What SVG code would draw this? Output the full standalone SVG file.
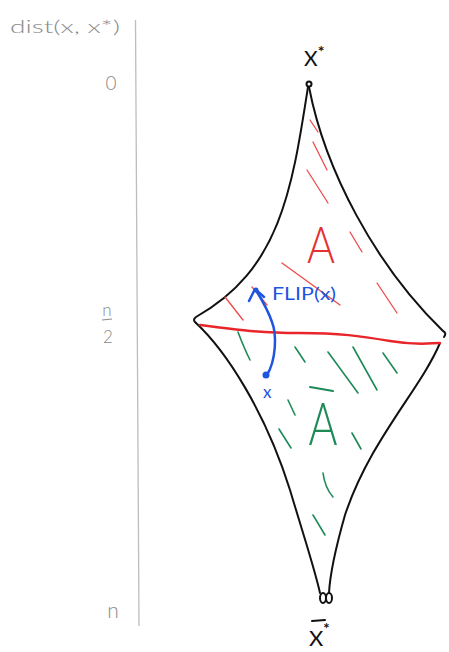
<svg xmlns="http://www.w3.org/2000/svg" width="449" height="652" viewBox="0 0 449 652">
<style>
.ink{fill:none;stroke:#111;stroke-width:2;stroke-linecap:round;stroke-linejoin:round}
.gray{font-family:Lato,Roboto,"Liberation Sans",sans-serif;font-weight:300;fill:#8a8a8a}
.redh{stroke:#ee4a4a;stroke-width:1.3;stroke-linecap:round;fill:none}
.grnh{stroke:#1d8a58;stroke-width:1.6;stroke-linecap:round;fill:none}
.blue{fill:#1f55df;font-family:Lato,Roboto,"Liberation Sans",sans-serif}
.lbl{font-family:Lato,Roboto,"Liberation Sans",sans-serif;fill:#111}
</style>
<rect width="449" height="652" fill="#fff"/>
<g id="axis">
<line x1="135.5" y1="20" x2="139" y2="626" stroke="#bdbdbd" stroke-width="1.3"/>
<text class="gray" x="10" y="33" font-size="18" textLength="110" lengthAdjust="spacingAndGlyphs">dist(x, x*)</text>
<text class="gray" x="111" y="90" font-size="19" text-anchor="middle">0</text>
<text class="gray" x="107" y="316" font-size="17" text-anchor="middle">n</text>
<line x1="102" y1="320" x2="112" y2="319" stroke="#8a8a8a" stroke-width="1.2"/>
<text class="gray" x="108" y="343" font-size="17" text-anchor="middle">2</text>
<text class="gray" x="113" y="618" font-size="21" text-anchor="middle">n</text>
</g>
<g id="shape">
<path class="ink" d="M308,87 C292,190 280,270 196,317 Q192,320 196,323"/>
<path class="ink" d="M309,87 C325,170 375,265 443,331 Q447,333 444,337"/>
<path class="ink" d="M196,323 C225,350 265,410 290,490 C305,540 315,570 320,593"/>
<path class="ink" d="M440,343 C420,390 370,440 345,515 C335,550 330,575 329,593"/>
</g>
<g id="node-xstar">
<circle cx="309" cy="84" r="2.5" fill="none" stroke="#111" stroke-width="2"/>
<text class="lbl" x="304" y="66" font-size="21">X<tspan font-size="16" font-weight="bold" dy="-9">*</tspan></text>
</g>
<g id="node-xbarstar">
<ellipse cx="323" cy="598" rx="3" ry="5" fill="none" stroke="#111" stroke-width="2"/>
<ellipse cx="329" cy="598" rx="3" ry="5" fill="none" stroke="#111" stroke-width="2"/>
<line x1="312" y1="621" x2="325" y2="620" stroke="#111" stroke-width="2" stroke-linecap="round"/>
<text class="lbl" x="309" y="646" font-size="22">X<tspan font-size="15" font-weight="bold" dy="-12">*</tspan></text>
</g>
<g id="region-A">
<line class="redh" x1="310" y1="120" x2="318" y2="132"/>
<line class="redh" x1="313" y1="142" x2="327" y2="170"/>
<line class="redh" x1="307" y1="170" x2="328" y2="203"/>
<line class="redh" x1="350" y1="232" x2="362" y2="252"/>
<line class="redh" x1="282" y1="263" x2="340" y2="305"/>
<line class="redh" x1="377" y1="283" x2="397" y2="313"/>
<line class="redh" x1="225" y1="297" x2="243" y2="320"/>
<line class="redh" x1="252" y1="287" x2="267" y2="305"/>
<text x="321" y="263" font-size="52" font-family="Lato,Roboto,'Liberation Sans',sans-serif" font-weight="300" fill="#e53030" text-anchor="middle" textLength="28" lengthAdjust="spacingAndGlyphs">A</text>
</g>
<g id="region-Abar">
<path class="grnh" d="M238,332 Q244,348 250,360"/>
<line class="grnh" x1="295" y1="347" x2="305" y2="362"/>
<line class="grnh" x1="328" y1="352" x2="358" y2="393" stroke-width="1.1"/>
<line class="grnh" x1="353" y1="347" x2="377" y2="390"/>
<line class="grnh" x1="383" y1="353" x2="397" y2="373" stroke-width="2"/>
<line class="grnh" x1="288" y1="400" x2="295" y2="415"/>
<line class="grnh" x1="279" y1="429" x2="291" y2="448"/>
<line class="grnh" x1="352" y1="433" x2="361" y2="449"/>
<path class="grnh" d="M323,473 Q325,488 333,497"/>
<line class="grnh" x1="313" y1="515" x2="325" y2="535"/>
<line x1="310" y1="387" x2="333" y2="391" stroke="#1d8a58" stroke-width="2" stroke-linecap="round"/>
<text x="323" y="445" font-size="60" font-family="Lato,Roboto,'Liberation Sans',sans-serif" font-weight="300" fill="#1d8a58" text-anchor="middle" textLength="29" lengthAdjust="spacingAndGlyphs">A</text>
</g>
<g id="connectors">
<path d="M200,325 C240,330 260,333 300,333 S360,336 390,341 S430,343 440,343" fill="none" stroke="#e8262a" stroke-width="2.5" stroke-linecap="round"/>
<path d="M267,375 C276,360 277,335 272,322 C268,310 262,300 256,290" fill="none" stroke="#1f55df" stroke-width="2.5" stroke-linecap="round"/>
<path d="M249,301 L255,289 L264,297" fill="none" stroke="#1f55df" stroke-width="2.5" stroke-linecap="round" stroke-linejoin="round"/>
<circle cx="256" cy="290" r="2.5" fill="#1f55df"/>
<circle cx="266" cy="375" r="3.5" fill="#1f55df"/>
</g>
<g id="labels-blue">
<text class="blue" x="272" y="300" font-size="17" textLength="64" lengthAdjust="spacingAndGlyphs">FLIP(x)</text>
<text class="blue" x="263" y="398" font-size="17">x</text>
</g>
</svg>
